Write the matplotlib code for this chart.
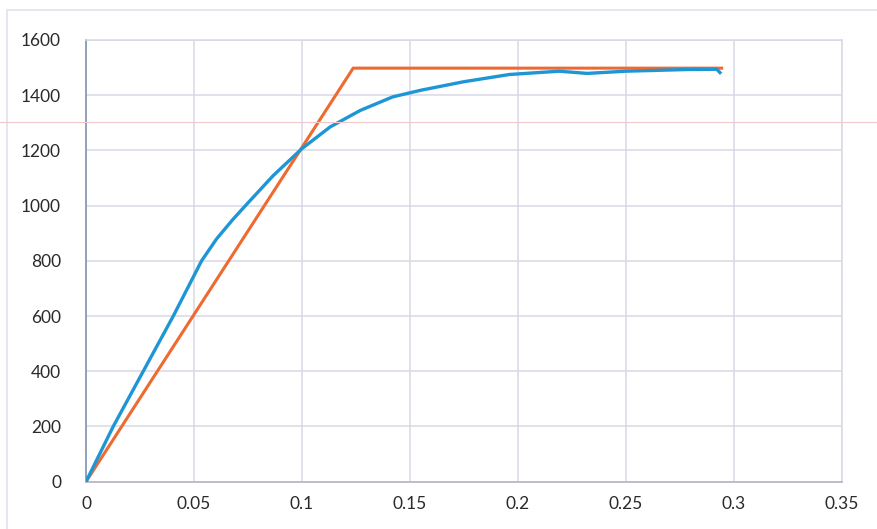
import matplotlib
matplotlib.use("Agg")
import matplotlib.pyplot as plt
from matplotlib.patches import Rectangle
from matplotlib.lines import Line2D

# Measured curve (blue)
blue_x = [0.0, 0.0126, 0.0265, 0.0404, 0.0535, 0.0605, 0.0680, 0.0744, 0.0867,
          0.0999, 0.113, 0.127, 0.142, 0.155, 0.175, 0.196, 0.219, 0.232,
          0.250, 0.278, 0.292, 0.2935]
blue_y = [0, 200, 400, 600, 800, 880, 950, 1005, 1109,
          1206, 1285, 1345, 1394, 1418, 1449, 1475, 1487, 1479,
          1487, 1493, 1494, 1482]

# Bilinear idealisation (orange)
orange_x = [0.0, 0.1237, 0.2943]
orange_y = [0, 1498, 1498]

x_ticks = [0, 0.05, 0.1, 0.15, 0.2, 0.25, 0.3, 0.35]
x_labels = ["0", "0.05", "0.1", "0.15", "0.2", "0.25", "0.3", "0.35"]
y_ticks = [0, 200, 400, 600, 800, 1000, 1200, 1400, 1600]

W, H = 877, 529
fig = plt.figure(figsize=(W / 100, H / 100), dpi=100)
fig.patch.set_facecolor("white")

# outer chart frame
fig.add_artist(Rectangle((7 / W, -0.05), 1.0, 1 - 10 / H + 0.05,
                         transform=fig.transFigure, fill=False,
                         edgecolor="#e2e2ec", linewidth=1.2))

ax = fig.add_axes([86 / W, (H - 481.7) / H, (842 - 86) / W, (481.7 - 40) / H])
ax.set_xlim(0, 0.35)
ax.set_ylim(0, 1600)

grid_c = "#d8d8e6"
ax.set_xticks(x_ticks)
ax.set_xticklabels(x_labels)
ax.set_yticks(y_ticks)
ax.grid(True, color=grid_c, linewidth=1.1)
ax.set_axisbelow(True)

for s in ["top", "right"]:
    ax.spines[s].set_color(grid_c)
    ax.spines[s].set_linewidth(1.1)
ax.spines["left"].set_color("#8a9bb5")
ax.spines["left"].set_linewidth(1.3)
ax.spines["bottom"].set_color("#b8b8c8")
ax.spines["bottom"].set_linewidth(1.3)

ax.tick_params(length=0, labelsize=12.5, colors="#2a2a2a", pad=10)
for lab in ax.get_xticklabels() + ax.get_yticklabels():
    lab.set_fontfamily("Lato")
ax.tick_params(axis="y", pad=18)

ax.plot(orange_x, orange_y, color="#ee6a30", linewidth=2.2, solid_joinstyle="miter", zorder=3)
ax.plot(blue_x, blue_y, color="#1e96d6", linewidth=2.4, zorder=4)

# faint scan line artifact
fig.add_artist(Line2D([0, 1], [1 - 122 / H, 1 - 122 / H], transform=fig.transFigure,
                      color="#f0c8cc", linewidth=0.8))

fig.savefig("out.png", dpi=100, facecolor="white")
